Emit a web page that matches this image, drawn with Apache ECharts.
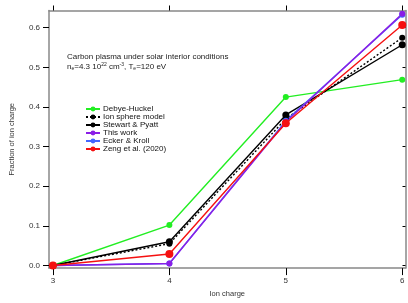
<!DOCTYPE html>
<html>
<head>
<meta charset="utf-8">
<script src="https://cdn.jsdelivr.net/npm/echarts@6/dist/echarts.min.js"></script>
<style>
html, body { margin: 0; padding: 0; background: #fff; }
#main { width: 408px; height: 303px; }
</style>
</head>
<body>
<div id="main"></div>
<script>
// ion charge (x) and fraction of each ion charge
var ionCharge = [3, 4, 5, 6];
var debyeHuckel = [0.0, 0.102, 0.425, 0.469];
var ionSphere = [0.0, 0.055, 0.370, 0.575];
var stewartPyatt = [0.0, 0.060, 0.380, 0.557];
var thisWork = [0.0, 0.005, 0.362, 0.635];
var eckerKroll = [0.0, 0.005, 0.365, 0.633];
var zeng2020 = [0.0, 0.029, 0.359, 0.607];
var xTicks = [3, 4, 5, 6];
var yTicks = [0, 0.1, 0.2, 0.3, 0.4, 0.5, 0.6];

var FONT = 'Liberation Sans';

function pairs(ys) {
    var out = [];
    for (var i = 0; i < ionCharge.length; i++) {
        out.push([ionCharge[i], ys[i]]);
    }
    return out;
}

function makeSeries(name, ys, color, symSize, dashed) {
    return {
        name: name,
        type: 'line',
        data: pairs(ys),
        symbol: 'circle',
        symbolSize: symSize,
        showSymbol: true,
        clip: false,
        color: color,
        lineStyle: { color: color, width: 1.4, type: dashed ? [2, 2] : 'solid' },
        itemStyle: { color: color },
        animation: false
    };
}

var chart = echarts.init(document.getElementById('main'), null, { renderer: 'canvas' });

var option = {
    animation: false,
    grid: { left: 45, right: 2.5, top: 10.5, bottom: 28 },
    legend: {
        orient: 'vertical',
        left: 85,
        top: 105,
        itemWidth: 14,
        itemHeight: 6,
        itemGap: 0,
        padding: 0,
        textStyle: { fontFamily: FONT, fontSize: 8, color: '#111', lineHeight: 8, padding: [0, 0, 0, -2] },
        data: ['Debye-Huckel', 'Ion sphere model', 'Stewart & Pyatt', 'This work', 'Ecker & Kroll', 'Zeng et al. (2020)']
    },
    xAxis: [{
        type: 'value',
        min: 2.966,
        max: 6.028,
        name: 'Ion charge',
        nameLocation: 'middle',
        nameGap: 20,
        nameTextStyle: { fontFamily: FONT, fontSize: 7.5, color: '#333' },
        axisLine: { show: true, onZero: false, lineStyle: { color: '#888', width: 1.5 } },
        axisTick: { show: true, inside: false, length: 7, customValues: xTicks, lineStyle: { color: '#000', width: 1 } },
        axisLabel: { show: true, customValues: xTicks, fontFamily: FONT, fontSize: 8, color: '#333', margin: 9 },
        splitLine: { show: false }
    }, {
        type: 'value',
        position: 'top',
        min: 2.966,
        max: 6.028,
        axisLine: { show: true, onZero: false, lineStyle: { color: '#888', width: 1.5 } },
        axisTick: { show: true, inside: false, length: 5, customValues: xTicks, lineStyle: { color: '#000', width: 1 } },
        axisLabel: { show: false },
        splitLine: { show: false }
    }],
    yAxis: [{
        type: 'value',
        min: -0.0066,
        max: 0.6435,
        name: 'Fraction of ion charge',
        nameLocation: 'middle',
        nameGap: 33,
        nameTextStyle: { fontFamily: FONT, fontSize: 7.5, color: '#333' },
        axisLine: { show: true, onZero: false, lineStyle: { color: '#888', width: 1.5 } },
        axisTick: { show: true, inside: false, length: 6, customValues: yTicks, lineStyle: { color: '#000', width: 1 } },
        axisLabel: {
            show: true, customValues: yTicks, fontFamily: FONT, fontSize: 8, color: '#333', margin: 9,
            formatter: function (v) { return v.toFixed(1); }
        },
        splitLine: { show: false }
    }, {
        type: 'value',
        position: 'right',
        min: -0.0066,
        max: 0.6435,
        axisLine: { show: true, onZero: false, lineStyle: { color: '#888', width: 1.5 } },
        axisTick: { show: true, inside: true, length: 3, customValues: yTicks, lineStyle: { color: '#000', width: 1 } },
        axisLabel: { show: false },
        splitLine: { show: false }
    }],
    graphic: [{
        type: 'text',
        left: 67,
        top: 52.5,
        style: {
            text: 'Carbon plasma under solar interior conditions',
            fontFamily: FONT, fontSize: 8, fill: '#222'
        }
    }, {
        type: 'text',
        left: 67,
        top: 62,
        style: {
            text: 'n{s|e}=4.3 10{p|22} cm{p|-3}, T{s|e}=120 eV',
            fontFamily: FONT, fontSize: 8, fill: '#222',
            rich: {
                s: { fontFamily: FONT, fontSize: 5, verticalAlign: 'bottom', padding: [4, 0, 0, 0] },
                p: { fontFamily: FONT, fontSize: 5, verticalAlign: 'top', padding: [0, 0, 4, 0] }
            }
        }
    }],
    series: [
        makeSeries('Debye-Huckel', debyeHuckel, '#22ee22', 6, false),
        makeSeries('Ion sphere model', ionSphere, '#000000', 6, true),
        makeSeries('Stewart & Pyatt', stewartPyatt, '#000000', 7, false),
        makeSeries('Ecker & Kroll', eckerKroll, '#4466ff', 6, false),
        makeSeries('This work', thisWork, '#8a1ee6', 6, false),
        makeSeries('Zeng et al. (2020)', zeng2020, '#f51010', 8, false)
    ]
};

chart.setOption(option);
</script>
</body>
</html>
